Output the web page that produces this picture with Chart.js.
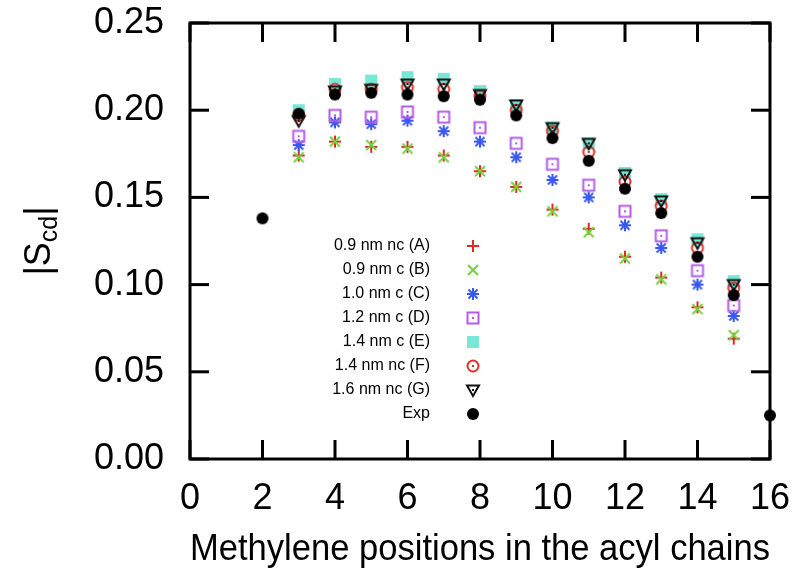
<!DOCTYPE html>
<html>
<head>
<meta charset="utf-8">
<script src="https://cdn.jsdelivr.net/npm/chart.js@4.4.1/dist/chart.umd.min.js"></script>
<style>
  body { margin: 0; background: #fff; }
  #wrap { width: 798px; height: 580px; }
</style>
</head>
<body>
<div id="wrap"><canvas id="chart1" width="798" height="580"></canvas></div>
<script>
// Methylene positions (x) for the simulations and for experiment
const positions = [3, 4, 5, 6, 7, 8, 9, 10, 11, 12, 13, 14, 15];
const expPositions = [2, 3, 4, 5, 6, 7, 8, 9, 10, 11, 12, 13, 14, 15, 16];

// |Scd| values
const seriesA = [0.174, 0.182, 0.179, 0.179, 0.174, 0.165, 0.156, 0.143, 0.132, 0.116, 0.104, 0.087, 0.069];
const seriesB = [0.173, 0.182, 0.180, 0.178, 0.173, 0.165, 0.156, 0.142, 0.130, 0.115, 0.103, 0.086, 0.071];
const seriesC = [0.180, 0.193, 0.192, 0.194, 0.188, 0.182, 0.173, 0.160, 0.150, 0.134, 0.121, 0.100, 0.082];
const seriesD = [0.185, 0.197, 0.196, 0.199, 0.196, 0.190, 0.181, 0.169, 0.157, 0.142, 0.128, 0.108, 0.088];
const seriesE = [0.200, 0.215, 0.217, 0.219, 0.218, 0.211, 0.203, 0.190, 0.181, 0.164, 0.149, 0.126, 0.102];
const seriesF = [0.197, 0.212, 0.212, 0.213, 0.212, 0.208, 0.200, 0.188, 0.176, 0.159, 0.145, 0.121, 0.098];
const seriesG = [0.194, 0.211, 0.212, 0.215, 0.215, 0.209, 0.203, 0.190, 0.181, 0.163, 0.148, 0.124, 0.100];
const seriesExp = [0.138, 0.198, 0.209, 0.210, 0.209, 0.208, 0.206, 0.197, 0.184, 0.171, 0.155, 0.141, 0.116, 0.094, 0.025];

const seriesNames = ['0.9 nm nc (A)', '0.9 nm c (B)', '1.0 nm c (C)', '1.2 nm c (D)',
                     '1.4 nm c (E)', '1.4 nm nc (F)', '1.6 nm nc (G)', 'Exp'];

const xTicks = [0, 2, 4, 6, 8, 10, 12, 14, 16];
const yTicks = [0, 0.05, 0.10, 0.15, 0.20, 0.25];

const FONT = '"Liberation Sans", Arial, Helvetica, sans-serif';

// gnuplot style point symbols drawn on small canvases
function marker(draw) {
    const c = document.createElement('canvas');
    c.width = 18;
    c.height = 18;
    const g = c.getContext('2d');
    g.translate(9, 9);
    draw(g);
    return c;
}
function centerDot(g, col) {
    g.fillStyle = col;
    g.fillRect(-1, -1, 2, 2);
}

const markers = [
    // A: plus
    marker(g => {
        g.strokeStyle = '#e3262b'; g.lineWidth = 2;
        g.beginPath(); g.moveTo(-6, 0); g.lineTo(6, 0); g.moveTo(0, -6); g.lineTo(0, 6); g.stroke();
    }),
    // B: cross
    marker(g => {
        g.strokeStyle = '#74d23c'; g.lineWidth = 2;
        g.beginPath(); g.moveTo(-5, -5); g.lineTo(5, 5); g.moveTo(5, -5); g.lineTo(-5, 5); g.stroke();
    }),
    // C: asterisk
    marker(g => {
        g.strokeStyle = '#3b58ee'; g.lineWidth = 2;
        g.beginPath();
        g.moveTo(-6, 0); g.lineTo(6, 0); g.moveTo(0, -6); g.lineTo(0, 6);
        g.moveTo(-4.5, -4.5); g.lineTo(4.5, 4.5); g.moveTo(4.5, -4.5); g.lineTo(-4.5, 4.5);
        g.stroke();
    }),
    // D: open square
    marker(g => {
        g.strokeStyle = '#b35ce6'; g.lineWidth = 2;
        g.strokeRect(-5.5, -5.5, 11, 11);
        centerDot(g, '#b35ce6');
    }),
    // E: filled square
    marker(g => {
        g.fillStyle = '#78e8d6';
        g.fillRect(-6, -6, 12, 12);
    }),
    // F: open circle
    marker(g => {
        g.strokeStyle = '#e0302a'; g.lineWidth = 2;
        g.beginPath(); g.arc(0, 0, 5.5, 0, Math.PI * 2); g.stroke();
        centerDot(g, '#e0302a');
    }),
    // G: open down triangle
    marker(g => {
        g.strokeStyle = '#111'; g.lineWidth = 2;
        g.beginPath(); g.moveTo(-6, -4.5); g.lineTo(6, -4.5); g.lineTo(0, 6); g.closePath(); g.stroke();
        centerDot(g, '#111');
    }),
    // Exp: filled circle
    marker(g => {
        g.fillStyle = '#000';
        g.beginPath(); g.arc(0, 0, 6, 0, Math.PI * 2); g.fill();
    })
];

const allSeries = [seriesA, seriesB, seriesC, seriesD, seriesE, seriesF, seriesG, seriesExp];

const datasets = allSeries.map((vals, i) => {
    const xs = i === 7 ? expPositions : positions;
    return {
        label: seriesNames[i],
        data: xs.map((x, j) => ({ x: x, y: vals[j] })),
        pointStyle: markers[i],
        pointRadius: 6,
        showLine: false,
        clip: false,
        order: allSeries.length - i
    };
});

// frame with inward ticks on all four sides, y title with subscript, legend
const framePlugin = {
    id: 'frame',
    afterDraw(chart) {
        const ctx = chart.ctx;
        const a = chart.chartArea;
        const xs = chart.scales.x;
        const ys = chart.scales.y;
        const tl = 19;
        const lw = 3;
        ctx.save();
        ctx.fillStyle = '#000';
        xTicks.forEach(v => {
            const px = xs.getPixelForValue(v);
            ctx.fillRect(px - lw / 2, a.bottom - tl, lw, tl);
            ctx.fillRect(px - lw / 2, a.top, lw, tl);
        });
        yTicks.forEach(v => {
            const py = ys.getPixelForValue(v);
            ctx.fillRect(a.left, py - lw / 2, tl, lw);
            ctx.fillRect(a.right - tl, py - lw / 2, tl, lw);
        });
        ctx.strokeStyle = '#000';
        ctx.lineWidth = lw;
        ctx.strokeRect(a.left, a.top, a.right - a.left, a.bottom - a.top);

        // y axis title |Scd|
        ctx.translate(50, (a.top + a.bottom) / 2);
        ctx.rotate(-Math.PI / 2);
        ctx.textBaseline = 'alphabetic';
        ctx.textAlign = 'left';
        const big = '36px ' + FONT;
        const small = '25px ' + FONT;
        ctx.font = big;
        const w1 = ctx.measureText('|S').width;
        const w3 = ctx.measureText('|').width;
        ctx.font = small;
        const w2 = ctx.measureText('cd').width;
        let x0 = -(w1 + w2 + w3) / 2;
        ctx.font = big;
        ctx.fillText('|S', x0, 0);
        ctx.font = small;
        ctx.fillText('cd', x0 + w1, 7);
        ctx.font = big;
        ctx.fillText('|', x0 + w1 + w2, 0);
        ctx.restore();

        // legend
        ctx.save();
        ctx.font = '16px ' + FONT;
        ctx.fillStyle = '#000';
        ctx.textAlign = 'right';
        ctx.textBaseline = 'middle';
        seriesNames.forEach((name, i) => {
            const y = 246 + 24 * i;
            ctx.fillText(name, 430, y);
            const m = markers[i];
            ctx.drawImage(m, 473 - m.width / 2, y - m.height / 2);
        });
        ctx.restore();
    }
};

const chart = new Chart(document.getElementById('chart1'), {
    type: 'scatter',
    data: { datasets: datasets },
    options: {
        responsive: false,
        animation: false,
        layout: { padding: { top: 23, right: 28, left: 0, bottom: 0 } },
        plugins: {
            legend: { display: false },
            tooltip: { enabled: false }
        },
        scales: {
            x: {
                type: 'linear',
                min: 0,
                max: 16,
                grid: { display: false, drawTicks: false },
                border: { display: false },
                afterFit: (s) => {
                    s.height = 121;
                    s.paddingLeft = 0;
                    s.paddingRight = 0;
                },
                ticks: {
                    stepSize: 2,
                    padding: 18,
                    color: '#000',
                    font: { family: FONT, size: 36 }
                },
                title: {
                    display: true,
                    text: 'Methylene positions in the acyl chains',
                    color: '#000',
                    font: { family: FONT, size: 36 },
                    padding: { top: 0, bottom: 8 }
                }
            },
            y: {
                min: 0,
                max: 0.25,
                grid: { display: false, drawTicks: false },
                border: { display: false },
                afterFit: (s) => {
                    s.width = 190;
                    s.paddingTop = 0;
                    s.paddingBottom = 0;
                },
                ticks: {
                    stepSize: 0.05,
                    padding: 26,
                    color: '#000',
                    font: { family: FONT, size: 36 },
                    callback: (v) => v.toFixed(2)
                }
            }
        }
    },
    plugins: [framePlugin]
});
</script>
</body>
</html>
